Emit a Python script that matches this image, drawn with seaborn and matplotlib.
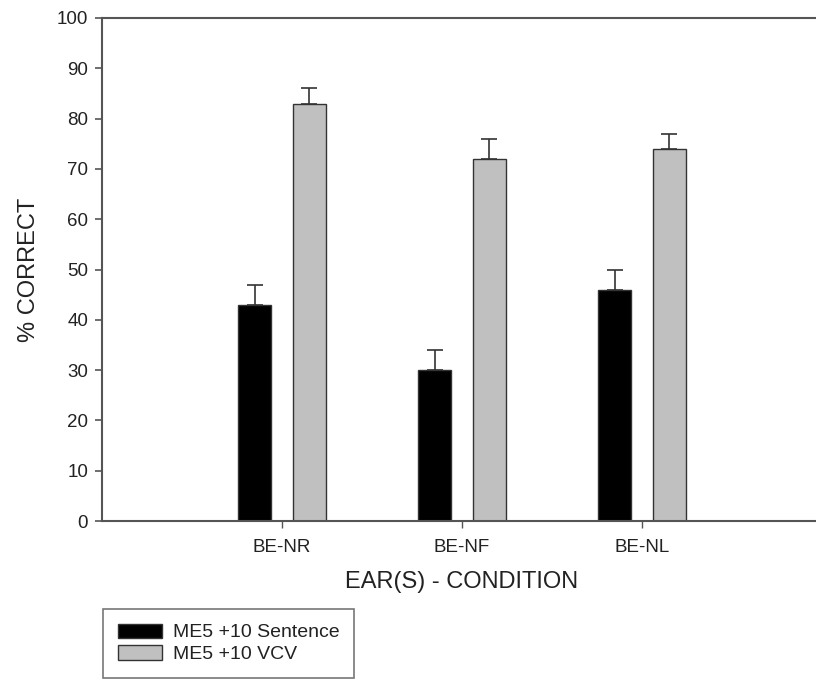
import matplotlib
matplotlib.use("Agg")
import matplotlib.pyplot as plt
from matplotlib.patches import Patch
import seaborn as sns
import pandas as pd

conditions = ["BE-NR", "BE-NF", "BE-NL"]
series_names = ["ME5 +10 Sentence", "ME5 +10 VCV"]
sentence_vals = [43, 30, 46]
sentence_err = [4, 4, 4]
vcv_vals = [83, 72, 74]
vcv_err = [3, 4, 3]
y_ticks = [0, 10, 20, 30, 40, 50, 60, 70, 80, 90, 100]

sns.set_theme(style="white")
plt.rcParams["font.family"] = ["Liberation Sans", "DejaVu Sans"]

df = pd.DataFrame({
    "condition": conditions * 2,
    "series": [series_names[0]] * 3 + [series_names[1]] * 3,
    "value": sentence_vals + vcv_vals,
})
errs = [sentence_err, vcv_err]
colors = {series_names[0]: "black", series_names[1]: "#c0c0c0"}

fig = plt.figure(figsize=(8.16, 6.79), dpi=100)
ax = fig.add_axes([102 / 816, 1 - 521 / 679, 720 / 816, 503 / 679])

sns.barplot(data=df, x="condition", y="value", hue="series", order=conditions,
            hue_order=series_names, palette=colors, width=0.61, gap=0.4,
            edgecolor="#333333", linewidth=1.0, errorbar=None, ax=ax, legend=False,
            zorder=2)

for cont, e in zip(ax.containers, errs):
    xs = [b.get_x() + b.get_width() / 2 for b in cont]
    ys = [b.get_height() for b in cont]
    ax.errorbar(xs, ys, yerr=[[0] * len(e), e], fmt="none", ecolor="#333333",
                elinewidth=1.2, capsize=6, capthick=1.2, zorder=1)

ax.set_xlim(-1, 3)
ax.set_ylim(0, 100)
ax.set_yticks(y_ticks)
ax.set_yticklabels([str(t) for t in y_ticks])
ax.set_xlabel("EAR(S) - CONDITION", fontsize=17, color="#222222", labelpad=11)
ax.set_ylabel("% CORRECT", fontsize=17, color="#222222", labelpad=12)
ax.tick_params(axis="y", which="both", left=True, length=5, width=1.2,
               color="#555555", labelsize=13.5, labelcolor="#222222", pad=5)
ax.tick_params(axis="x", which="both", bottom=True, length=5, width=1.0,
               color="#555555", labelsize=13.5, labelcolor="#222222", pad=8)
for side in ["left", "bottom", "top"]:
    ax.spines[side].set_visible(True)
    ax.spines[side].set_color("#555555")
    ax.spines[side].set_linewidth(1.5)
ax.spines["right"].set_visible(False)

handles = [Patch(facecolor=colors[s], edgecolor="#333333", linewidth=1.0, label=s)
           for s in series_names]
leg = fig.legend(handles=handles, loc="upper left",
                 bbox_to_anchor=(103 / 816, 1 - 609 / 679), bbox_transform=fig.transFigure,
                 fontsize=14, frameon=True, fancybox=False, borderaxespad=0,
                 handlelength=2.3, handleheight=0.75, handletextpad=0.55,
                 labelspacing=0.2, borderpad=0.75)
leg.get_frame().set_edgecolor("#555555")
leg.get_frame().set_linewidth(1.2)
for t in leg.get_texts():
    t.set_color("#222222")

fig.savefig("out.png", dpi=100)
